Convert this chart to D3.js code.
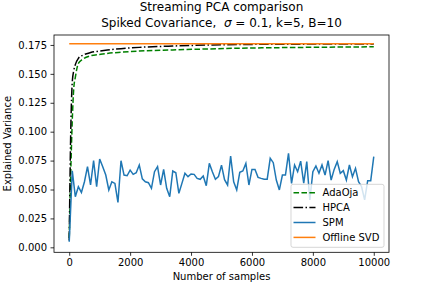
<!DOCTYPE html>
<html>
<head>
<meta charset="utf-8">
<script src="https://cdn.jsdelivr.net/npm/d3@7"></script>
<style>
  body { margin: 0; background: #fff; }
  svg text { font-family: "DejaVu Sans", sans-serif; fill: #000; }
</style>
</head>
<body>
<svg id="chart" width="432" height="288"></svg>
<script>
// SPM is logged every 100 samples
const spmSamples = d3.range(0, 10001, 100);
const spmValues = [
  0.0048, 0.0662, 0.0438, 0.0524, 0.0475, 0.0567, 0.0697, 0.0539, 0.0749, 0.0524,
  0.0764, 0.0697, 0.0625, 0.0496, 0.0567, 0.0553, 0.0389, 0.0749, 0.0625, 0.0619,
  0.0668, 0.0631, 0.0645, 0.0712, 0.0592, 0.0567, 0.0559, 0.0510, 0.0654, 0.0697,
  0.0539, 0.0674, 0.0510, 0.0438, 0.0660, 0.0645, 0.0467, 0.0553, 0.0640, 0.0611,
  0.0634, 0.0631, 0.0596, 0.0588, 0.0617, 0.0533, 0.0726, 0.0654, 0.0588, 0.0611,
  0.0710, 0.0585, 0.0539, 0.0790, 0.0567, 0.0496, 0.0648, 0.0660, 0.0726, 0.0539,
  0.0674, 0.0674, 0.0605, 0.0596, 0.0588, 0.0588, 0.0770, 0.0732, 0.0582, 0.0496,
  0.0625, 0.0625, 0.0813, 0.0553, 0.0712, 0.0654, 0.0745, 0.0555, 0.0741, 0.0410,
  0.0654, 0.0703, 0.0640, 0.0712, 0.0625, 0.0749, 0.0582, 0.0674, 0.0741, 0.0640,
  0.0663, 0.0582, 0.0712, 0.0611, 0.0683, 0.0567, 0.0524, 0.0410, 0.0576, 0.0576,
  0.0784
];

const curveSamples = [0, 50, 100, 150, 200, 300, 450, 700, 1000, 1250, 1700, 2300, 3400, 4500, 5600, 7000, 8500, 10000];
const hpcaValues = [0.006, 0.100, 0.143, 0.153, 0.158, 0.1634, 0.1662, 0.1684, 0.1697, 0.1706, 0.1718, 0.1729, 0.1741, 0.1749, 0.1754, 0.1756, 0.1758, 0.1759];
const adaojaValues = [0.008, 0.065, 0.110, 0.138, 0.147, 0.1590, 0.1628, 0.1656, 0.1668, 0.1677, 0.1687, 0.1697, 0.1707, 0.1715, 0.1722, 0.1727, 0.1731, 0.1734];

const svdSamples = [0, 10000];
const svdValue = 0.176;

const xTicks = [0, 2000, 4000, 6000, 8000, 10000];
const yTicks = [0, 0.025, 0.05, 0.075, 0.1, 0.125, 0.15, 0.175];

const W = 432, H = 288;
const margin = {left: 54, right: 43, top: 35, bottom: 35.7};

const svg = d3.select('#chart');

var x = d3.scaleLinear().domain([-500, 10500]).range([margin.left, W - margin.right]);
var y = d3.scaleLinear().domain([-0.0043, 0.1836]).range([H - margin.bottom, margin.top]);

var series = [
  {name: 'AdaOja', color: 'green', dash: '5.55,2.4', xs: curveSamples, ys: adaojaValues, curve: d3.curveMonotoneX},
  {name: 'HPCA', color: 'black', dash: '9.6,2.4,1.5,2.4', xs: curveSamples, ys: hpcaValues, curve: d3.curveMonotoneX},
  {name: 'SPM', color: '#1f77b4', dash: null, xs: spmSamples, ys: spmValues, curve: d3.curveLinear},
  {name: 'Offline SVD', color: '#ff7f0e', dash: null, xs: svdSamples, ys: svdSamples.map(() => svdValue), curve: d3.curveLinear}
];

// plotted in legend order, so Offline SVD ends up on top
var plot = svg.append('g');
series.forEach((s) => {
  var line = d3.line()
    .x((d) => x(d[0]))
    .y((d) => y(d[1]))
    .curve(s.curve);
  plot.append('path')
    .datum(s.xs.map((v, k) => [v, s.ys[k]]))
    .attr('d', line)
    .attr('fill', 'none')
    .attr('stroke', s.color)
    .attr('stroke-width', 1.5)
    .attr('stroke-dasharray', s.dash);
});

// axes
var xAxis = svg.append('g')
  .attr('transform', `translate(0,${H - margin.bottom})`)
  .call(d3.axisBottom(x).tickValues(xTicks).tickFormat((d) => d).tickSize(3.5).tickPadding(3.5));
var yAxis = svg.append('g')
  .attr('transform', `translate(${margin.left},0)`)
  .call(d3.axisLeft(y).tickValues(yTicks).tickFormat(d3.format('.3f')).tickSize(3.5).tickPadding(3.5));

[xAxis, yAxis].forEach((g) => {
  g.select('.domain').remove();
  g.selectAll('.tick line').attr('stroke', '#000').attr('stroke-width', 0.8);
  g.selectAll('.tick text').attr('font-size', 10).attr('font-family', '"DejaVu Sans", sans-serif').attr('fill', '#000');
});

svg.append('rect')
  .attr('x', margin.left).attr('y', margin.top)
  .attr('width', W - margin.left - margin.right)
  .attr('height', H - margin.top - margin.bottom)
  .attr('fill', 'none').attr('stroke', '#000').attr('stroke-width', 0.8);

// labels
svg.append('text')
  .attr('x', (margin.left + W - margin.right) / 2).attr('y', 279.5)
  .attr('text-anchor', 'middle').attr('font-size', 10)
  .text('Number of samples');

svg.append('text')
  .attr('transform', `translate(10.6,${(margin.top + H - margin.bottom) / 2}) rotate(-90)`)
  .attr('text-anchor', 'middle').attr('font-size', 10)
  .text('Explained Variance');

var cx = (margin.left + W - margin.right) / 2;
svg.append('text')
  .attr('x', cx).attr('y', 10.5)
  .attr('text-anchor', 'middle').attr('font-size', 12)
  .text('Streaming PCA comparison');

var t2 = svg.append('text')
  .attr('x', cx).attr('y', 26.5)
  .attr('text-anchor', 'middle').attr('font-size', 12)
  .attr('xml:space', 'preserve');
t2.append('tspan').text('Spiked Covariance,  ');
t2.append('tspan').attr('font-style', 'italic').text('σ');
t2.append('tspan').text(' = 0.1, k=5, B=10');

// legend
var legend = svg.append('g').attr('transform', 'translate(291,184.3)');
legend.append('rect')
  .attr('width', 93).attr('height', 63).attr('rx', 2)
  .attr('fill', '#fff').attr('fill-opacity', 0.8)
  .attr('stroke', '#ccc').attr('stroke-opacity', 0.8).attr('stroke-width', 1);

series.forEach((s, i) => {
  var ry = 8.4 + i * 14.9;
  legend.append('line')
    .attr('x1', 2.5).attr('x2', 24.5)
    .attr('y1', ry).attr('y2', ry)
    .attr('stroke', s.color).attr('stroke-width', 1.5)
    .attr('stroke-dasharray', s.dash);
  legend.append('text')
    .attr('x', 31.5).attr('y', ry).attr('dy', '0.36em')
    .attr('font-size', 10)
    .text(s.name);
});
</script>
</body>
</html>
